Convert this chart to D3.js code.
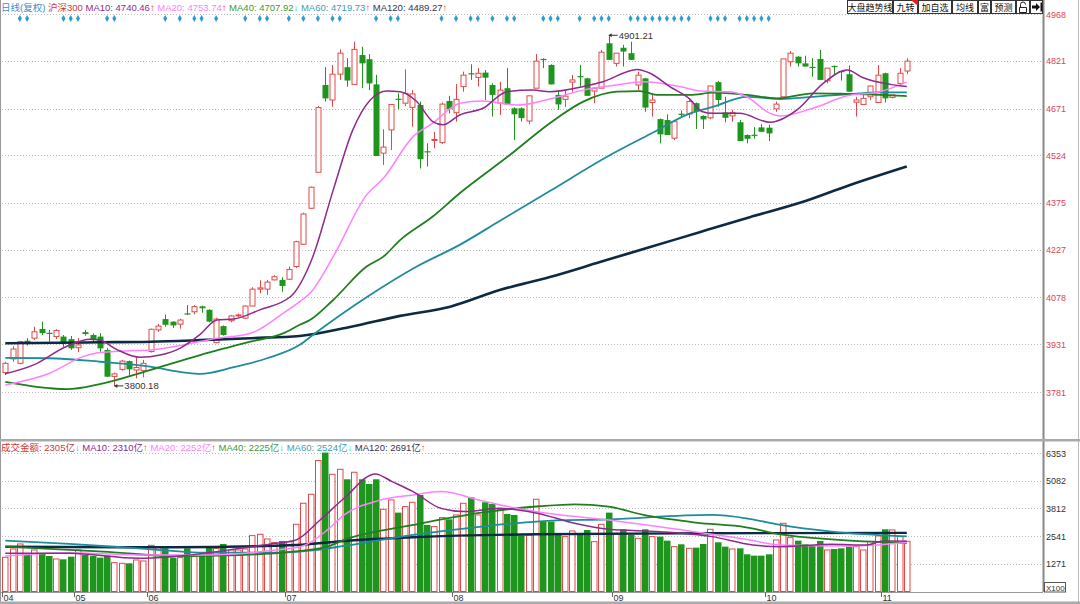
<!DOCTYPE html>
<html><head><meta charset="utf-8">
<script src="https://cdn.jsdelivr.net/npm/d3@7"></script>
<style>
body{margin:0;background:#fff;overflow:hidden}
svg{display:block}
text{font-family:"Liberation Sans","Noto Sans CJK SC",sans-serif}
</style>
</head><body>
<svg id="c" width="1080" height="604"></svg>
<script>
// ---------------- DATA ----------------
const opens=[3842,3885,3871,3942,3950,3979,3967,3955,3955,3947,
3920,3969,3960,3955,3913,3830,3852,3878,3850,3848,
3908,3976,4010,4002,3994,4028,4033,4050,4039,3936,
3988,4005,4021,4013,4051,4104,4104,4133,4133,4135,
4175,4245,4358,4471,4745,4698,4779,4801,4747,4839,
4826,4747,4531,4604,4702,4688,4675,4682,4537,4572,
4564,4695,4658,4740,4782,4769,4784,4745,4688,4735,
4672,4672,4632,4735,4827,4808,4714,4700,4754,4773,
4766,4726,4735,4876,4813,4862,4845,4745,4766,4690,
4638,4635,4578,4655,4654,4688,4648,4642,4754,4659,
4648,4628,4588,4589,4612,4611,4670,4708,4818,4834,
4813,4802,4827,4758,4805,4789,4779,4691,4684,4708,
4690,4782,4706,4750,4789];
const highs=[3876,3925,3942,3950,3986,4002,3976,3978,3960,3957,
3950,3976,3965,3966,3919,3842,3882,3880,3890,3882,
3980,3995,4024,4003,4011,4054,4054,4052,4041,4014,
3990,4023,4027,4052,4110,4132,4133,4148,4141,4175,
4256,4344,4426,4679,4801,4808,4857,4829,4881,4865,
4842,4777,4606,4684,4719,4794,4729,4693,4562,4598,
4690,4711,4748,4787,4810,4798,4792,4750,4755,4798,
4675,4675,4711,4842,4829,4810,4724,4729,4776,4808,
4768,4737,4855,4901.21,4845,4871,4881,4787,4766,4719,
4640,4653,4630,4665,4698,4690,4650,4742,4758,4708,
4667,4635,4590,4613,4622,4620,4693,4827,4852,4836,
4837,4829,4855,4798,4806,4790,4806,4708,4714,4742,
4808,4784,4714,4798,4829];
const lows=[3834,3876,3868,3927,3944,3960,3939,3947,3923,3913,
3906,3958,3935,3907,3829,3800.18,3848,3832,3824,3827,
3905,3970,3986,3982,3980,4023,4025,4030,4000,3934,
3958,4000,4017,4010,4051,4091,4086,4132,4096,4133,
4170,4243,4356,4471,4693,4677,4761,4740,4747,4735,
4729,4522,4494,4541,4669,4679,4614,4483,4489,4546,
4560,4656,4630,4724,4761,4740,4698,4646,4651,4684,
4572,4630,4622,4735,4798,4747,4667,4676,4724,4740,
4711,4688,4735,4824,4803,4803,4824,4729,4661,4646,
4562,4588,4572,4643,4641,4607,4607,4638,4677,4628,
4630,4569,4562,4577,4598,4569,4661,4708,4803,4803,
4803,4771,4761,4750,4776,4759,4724,4646,4682,4698,
4690,4690,4703,4750,4779];
const closes=[3871,3916,3939,3934,3970,3966,3965,3974,3934,3918,
3929,3963,3944,3918,3829,3838,3878,3852,3858,3871,
3978,3988,3992,3990,4007,4026,4049,4044,4002,4010,
3960,4020,4023,4051,4104,4108,4126,4143,4114,4166,
4253,4340,4424,4674,4703,4779,4845,4759,4857,4813,
4750,4522,4550,4684,4700,4719,4717,4512,4535,4574,
4685,4669,4700,4776,4780,4782,4768,4714,4729,4684,
4653,4641,4711,4820,4824,4747,4684,4710,4761,4771,
4711,4735,4848,4824,4845,4850,4824,4776,4674,4698,
4590,4588,4630,4653,4693,4663,4637,4742,4698,4642,
4659,4569,4576,4587,4598,4593,4685,4827,4845,4813,
4803,4800,4761,4798,4803,4787,4724,4698,4703,4742,
4776,4703,4714,4782,4820];
const volumes=[1568,1951,2180,1675,1905,1752,1629,1492,1476,1599,
1905,1675,1629,1553,1645,1323,1293,1293,1446,1400,
2119,2058,1981,1553,1553,1981,1599,1752,2012,1981,
2180,1905,1905,1951,2563,2624,2410,2241,2318,2287,
3083,4047,4460,6005,6372,5378,5607,5148,5470,5148,
4934,5148,3771,4200,3618,3894,4093,4429,3052,2976,
3389,3312,3511,4047,4322,3511,4093,4016,3771,3557,
3511,2563,2593,4230,3205,3205,2593,2517,2777,2593,
2823,2287,3083,3618,2670,2853,2593,2440,2853,2517,
2517,2333,2058,2165,1981,2012,2180,2853,2257,2058,
1951,1981,1706,1645,1645,1706,2364,3129,2471,2333,
2165,2088,2318,1905,1951,1981,2058,2058,1905,2287,
2547,2853,2823,2517,2305];
// candles whose open equals close but print as down (doji)
const dojiDown=[74,115];

// moving averages: [candle index, value]
const ma10Pts=[[0,3838],[3.9,3866],[8.4,3924],[11.7,3947],[13,3944],[15.3,3915],[18.5,3890],[21.3,3897],[24,3918],[26.8,3962],[29.1,4007],[31.4,4010],[35,4039],[39.2,4080],[42.3,4206],[45.1,4415],[47.8,4604],[50.2,4698],[52.5,4726],[54.3,4724],[56.6,4693],[58.8,4630],[60.2,4620],[62.5,4651],[65.7,4672],[69,4724],[72.6,4729],[74.9,4724],[79.5,4740],[82.2,4755],[86.9,4794],[88.7,4782],[91.4,4740],[94.2,4700],[95.8,4662],[97.4,4656],[101,4656],[105.2,4628],[108.9,4667],[112.5,4750],[115.8,4792],[118,4768],[121.7,4747],[124,4740]];
const ma20Pts=[[0,3803],[6.1,3840],[10.7,3892],[13,3905],[17.6,3911],[19.9,3913],[24.5,3929],[29.1,3950],[32.7,3960],[33.7,3965],[38.2,4028],[40.5,4065],[41.9,4091],[45.1,4206],[49.7,4400],[52,4452],[56.1,4583],[58.8,4625],[62.5,4688],[65.7,4695],[70.4,4682],[74.9,4701],[79.5,4729],[84.1,4745],[87.7,4755],[92.8,4740],[95.6,4726],[99.7,4724],[102,4708],[105.2,4656],[106.6,4648],[111.1,4672],[115.8,4711],[120.3,4724],[124,4754]];
const ma40Pts=[[0,3813],[6.1,3793],[8.5,3790],[13,3806],[19.9,3850],[26.8,3897],[33.7,3939],[38.2,3965],[40.5,3992],[41.9,4007],[45.1,4070],[49.7,4175],[52,4206],[54.3,4258],[58.8,4332],[62.5,4405],[69.4,4525],[74.9,4625],[79.5,4693],[84.1,4724],[87.3,4726],[89.6,4714],[94.2,4714],[97.4,4721],[102,4714],[106.1,4703],[111.1,4719],[115.8,4717],[120.3,4714],[124,4710]];
const ma60Pts=[[0,3888],[6.1,3887],[13,3876],[19.9,3861],[24.7,3842],[26.8,3838],[31.3,3858],[36,3887],[40.5,3929],[42.3,3960],[49.8,4080],[56.6,4175],[62.5,4243],[68,4318],[74.9,4412],[83.2,4525],[88.7,4591],[94.2,4656],[97.4,4677],[102,4708],[106.6,4701],[111.1,4708],[115.8,4716],[120.3,4722],[124,4722]];
const ma120Pts=[[0,3934],[13,3937],[20,3939],[26.8,3944],[33.7,3950],[40.5,3957],[47.4,3985],[54.3,4020],[61.2,4049],[68,4101],[74.9,4142],[81.8,4189],[88.7,4236],[95.5,4283],[102.4,4330],[109.3,4375],[116.2,4431],[124,4489]];

const vma10Pts=[[0,1752],[8.8,1752],[18.3,1522],[23,1599],[32.4,1981],[37.2,2211],[40,2364],[43.3,3282],[46.6,4276],[50.9,5393],[53.2,5041],[56.1,4582],[59.9,3817],[63.2,3664],[67.9,3817],[73.3,3580],[78.3,3129],[83,2853],[90.1,2746],[97.2,2517],[102.8,2134],[106.6,2058],[113.7,2165],[118.4,2134],[120.8,2318],[124,2310]];
const vma20Pts=[[0,1629],[8.8,1782],[18.3,1675],[27.7,1675],[37.2,1905],[40.9,2088],[44.3,2823],[46.6,3511],[51.3,4169],[56.1,4429],[59.9,4582],[65.5,4169],[70.3,3817],[73.5,3640],[83,3282],[92.5,2853],[101.9,2394],[106.6,2134],[116.1,2088],[124,2252]];
const vma40Pts=[[0,2058],[13.5,1828],[23,1629],[32.4,1675],[39.5,1828],[44.3,2058],[46.6,2364],[56.1,3052],[65.5,3618],[73.5,3910],[78.3,4001],[83,3894],[87.8,3511],[95,3159],[101.9,2945],[106.6,2624],[113.7,2394],[124,2225]];
const vma60Pts=[[0,2333],[8.8,2180],[18.3,1981],[27.7,1782],[37.2,1782],[41.9,1874],[46.6,2088],[56.1,2593],[65.5,2976],[73.5,3220],[83,3312],[97.2,3511],[101.9,3358],[106.6,3052],[113.7,2746],[124,2524]];
const vma120Pts=[[0,2050],[23,2027],[40,2134],[46.6,2318],[56.1,2486],[73,2624],[97,2670],[124,2691]];

const priceTicks=[4968,4821,4671,4524,4375,4227,4078,3931,3781];
const volTicks=[6353,5082,3812,2541,1271];
const monthLabels=["04","05","06","07","08","09","10","11"];
const monthStart=[0,10,20,39,62,84,105,121];
const markIdx=[2,3,8,9,10,14,15,22,24,26,27,29,33,35,36,39,41,43,45,46,51,53,54,60,62,64,65,67,69,70,74,75,76,79,81,82,83,86,87,88,89,90,91,92,93,94,97,98,99,101,102,103,104,105];
const btnLabels=["大盘趋势线","九转","加自选","均线","富","预测","",""];
const btnWidths=[46,25,34,26,13,25,14,13];

// ---------------- STYLE ----------------
const RED="#e04848", GREEN="#1e961e";
const C10="#8e2a8e", C20="#ff80ff", C40="#1f7f1f", C60="#1f8c9c", C120="#0c2a44";
const N=closes.length;
const svg=d3.select("#c");
const W=1043;

const x=d3.scaleBand().domain(d3.range(N)).range([1.67,1.67+7.27*N]);
const step=x.step();
const cx=i=>x(i)+step/2;
const y=d3.scaleLinear().domain([3781,4968]).range([392,14]);
const yv=d3.scaleLinear().domain([0,6353]).range([591.5,453]);
const isUp=i=>closes[i]>=opens[i] && !dojiDown.includes(i);

// frame
svg.append("rect").attr("x",0).attr("y",0).attr("width",1080).attr("height",604).attr("fill","#fff");
svg.append("line").attr("x1",0.5).attr("x2",0.5).attr("y1",0).attr("y2",604).attr("stroke","#999");
svg.append("line").attr("x1",W+0.5).attr("x2",W+0.5).attr("y1",0).attr("y2",592).attr("stroke","#888").attr("stroke-width",2);
svg.append("line").attr("x1",1078.5).attr("x2",1078.5).attr("y1",0).attr("y2",604).attr("stroke","#bbb");
svg.append("rect").attr("x",0).attr("y",439).attr("width",1080).attr("height",2.5).attr("fill","#aaa");
svg.append("line").attr("x1",0).attr("x2",W).attr("y1",592.5).attr("y2",592.5).attr("stroke","#999");
svg.append("rect").attr("x",0).attr("y",601.5).attr("width",1080).attr("height",2.5).attr("fill","#aaa");

// grids
const grid=svg.append("g").attr("stroke","#bbb").attr("stroke-dasharray","1,2");
priceTicks.forEach(t=>grid.append("line").attr("x1",2).attr("x2",W).attr("y1",Math.round(y(t))+0.5).attr("y2",Math.round(y(t))+0.5));
volTicks.forEach(t=>grid.append("line").attr("x1",2).attr("x2",W).attr("y1",Math.round(yv(t))+0.5).attr("y2",Math.round(yv(t))+0.5));

// axis labels
const ax=svg.append("g").attr("font-size","9px");
priceTicks.forEach(t=>ax.append("text").attr("x",W+3).attr("y",y(t)+3.5).attr("fill","#dd4455").text(t));
volTicks.forEach(t=>ax.append("text").attr("x",W+3).attr("y",yv(t)+3.5).attr("fill","#333").text(t));
svg.append("rect").attr("x",W+1.5).attr("y",582.5).attr("width",21).attr("height",9.5).attr("fill","#fff").attr("stroke","#555");
svg.append("text").attr("x",W+3).attr("y",590.5).attr("font-size","8px").attr("fill","#333").text("X100");

// month axis
monthStart.forEach((s,k)=>{
  const tx=Math.round(x(s))+0.5;
  svg.append("line").attr("x1",tx).attr("x2",tx).attr("y1",592).attr("y2",597).attr("stroke","#666");
  svg.append("text").attr("x",tx+1).attr("y",600.5).attr("font-size","9px").attr("fill","#333").text(monthLabels[k]);
});

// candles
const cg=svg.append("g");
d3.range(N).forEach(i=>{
  const o=opens[i],c=closes[i],h=highs[i],l=lows[i];
  const up=isUp(i);
  const col=up?RED:GREEN;
  const X=Math.round(cx(i))+0.5;
  const top=y(Math.max(o,c)), bot=y(Math.min(o,c));
  const bh=Math.max(1,bot-top);
  const bw=5;
  if(up){
    cg.append("line").attr("x1",X).attr("x2",X).attr("y1",y(h)).attr("y2",top).attr("stroke",col);
    cg.append("line").attr("x1",X).attr("x2",X).attr("y1",top+bh).attr("y2",y(l)).attr("stroke",col);
    cg.append("rect").attr("x",X-bw/2).attr("y",top).attr("width",bw).attr("height",bh).attr("fill","#fff").attr("stroke",col);
  } else {
    cg.append("line").attr("x1",X).attr("x2",X).attr("y1",y(h)).attr("y2",y(l)).attr("stroke",col);
    cg.append("rect").attr("x",X-bw/2-0.5).attr("y",top).attr("width",bw+1).attr("height",Math.max(1.2,bh)).attr("fill",col);
  }
});

// volume bars
const vg=svg.append("g");
d3.range(N).forEach(i=>{
  const X=cx(i);
  const t=yv(volumes[i]), b=yv(0);
  if(isUp(i)) vg.append("rect").attr("x",Math.round(X-3)+0.5).attr("y",t).attr("width",5.5).attr("height",b-t).attr("fill","#fff").attr("stroke",RED);
  else vg.append("rect").attr("x",Math.round(X-3)).attr("y",t).attr("width",6.5).attr("height",b-t+0.5).attr("fill",GREEN);
});

// MA lines
const lp=d3.line().x(d=>cx(0)+d[0]*step).y(d=>y(d[1])).curve(d3.curveMonotoneX);
const lv=d3.line().x(d=>cx(0)+d[0]*step).y(d=>yv(d[1])).curve(d3.curveMonotoneX);
[[ma120Pts,C120,2.6],[ma60Pts,C60,1.8],[ma40Pts,C40,1.8],[ma20Pts,C20,1.5],[ma10Pts,C10,1.5]].forEach(([p,c,w])=>
  svg.append("path").attr("d",lp(p)).attr("fill","none").attr("stroke",c).attr("stroke-width",w));
[[vma120Pts,C120,2.4],[vma60Pts,C60,1.8],[vma40Pts,C40,1.8],[vma20Pts,C20,1.5],[vma10Pts,C10,1.5]].forEach(([p,c,w])=>
  svg.append("path").attr("d",lv(p)).attr("fill","none").attr("stroke",c).attr("stroke-width",w));

// annotations
function note(i,v){
  const X=cx(i), Y=y(v);
  svg.append("line").attr("x1",X).attr("x2",X+9).attr("y1",Y).attr("y2",Y).attr("stroke","#333");
  svg.append("path").attr("d",`M${X},${Y}l3,-2v4z`).attr("fill","#333");
  svg.append("text").attr("x",X+10).attr("y",Y+3.5).attr("font-size","9.5px").attr("fill","#333").text(v.toFixed(2));
}
note(83,highs[83]);
note(15,lows[15]);

// marker diamonds
const dia=d3.symbol().type(d3.symbolDiamond).size(14);
markIdx.forEach(i=>svg.append("path").attr("d",dia()).attr("transform",`translate(${cx(i)},18.5)`).attr("fill","#2e9bd2"));

// legends
function legend(yy,parts){
  const t=svg.append("text").attr("x",1).attr("y",yy).attr("font-size","9.5px");
  parts.forEach(([s,c])=>t.append("tspan").attr("fill",c).text(s));
}
const UP="#ff3030", DN="#20c8dc";
legend(10.5,[["日线(复权)","#3a8fc8"],["  沪深300","#d03838"],["  MA10: 4740.46",C10],["↑",UP],["  MA20: 4753.74",C20],["↑",UP],["  MA40: 4707.92","#3a9a3a"],["↓",DN],["  MA60: 4719.73","#3aa0b2"],["↑",UP],["  MA120: 4489.27","#333355"],["↑",UP]]);
legend(450.5,[["成交金额: 2305亿","#d03838"],["↓",DN],[" MA10: 2310亿",C10],["↑",UP],[" MA20: 2252亿",C20],["↑",UP],[" MA40: 2225亿","#3a9a3a"],["↓",DN],[" MA60: 2524亿","#3aa0b2"],["↓",DN],[" MA120: 2691亿","#333355"],["↑",UP]]);

// buttons
let bx=847;
btnLabels.forEach((b,k)=>{
  const w=btnWidths[k];
  svg.append("rect").attr("x",bx+0.5).attr("y",0.5).attr("width",w-1).attr("height",13).attr("fill","#fff").attr("stroke","#333");
  if(b) svg.append("text").attr("x",bx+w/2).attr("y",10.5).attr("text-anchor","middle").attr("font-size","9px").attr("font-family","Noto Sans CJK SC").attr("fill","#111").text(b);
  if(k===6){
    svg.append("path").attr("d",`M${bx+3.5},${12.5}v-5h7v5zM${bx+4.5},${7.5}v-3a2.5,2.5 0 0 1 5,0`).attr("fill","none").attr("stroke","#222");
  }
  if(k===7){
    svg.append("path").attr("d",`M${bx+2},${5.5}h4v-2.5l4,4l-4,4v-2.5h-4z`).attr("fill","#111");
    svg.append("rect").attr("x",bx+10.5).attr("y",2.5).attr("width",1.5).attr("height",9).attr("fill","#111");
  }
  bx+=w;
});
svg.append("path").attr("d","M911,0h7v6z").attr("fill","#e02020");
</script>
</body></html>
